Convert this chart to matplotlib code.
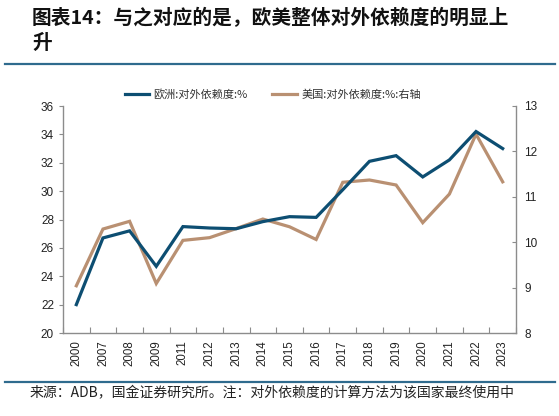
import matplotlib
matplotlib.use("Agg")
import matplotlib.pyplot as plt
import numpy as np

plt.rcParams['font.family'] = ['Noto Sans CJK SC', 'DejaVu Sans']

years = ["2000", "2007", "2008", "2009", "2011", "2012", "2013", "2014", "2015",
         "2016", "2017", "2018", "2019", "2020", "2021", "2022", "2023"]
europe = [22.0, 26.7, 27.2, 24.7, 27.5, 27.4, 27.35, 27.85, 28.2,
          28.15, 30.1, 32.1, 32.5, 31.0, 32.2, 34.2, 33.0]
usa = [9.04, 10.29, 10.46, 9.09, 10.04, 10.10, 10.30, 10.51, 10.34,
       10.06, 11.32, 11.37, 11.26, 10.43, 11.06, 12.38, 11.33]

label_eu = "欧洲:对外依赖度:%"
label_us = "美国:对外依赖度:%:右轴"
title_text = "图表14：与之对应的是，欧美整体对外依赖度的明显上\n升"
source_text = "来源：ADB，国金证券研究所。注：对外依赖度的计算方法为该国家最终使用中"

c_eu = "#0D4E72"
c_us = "#B99072"
c_sep = "#2F6B8E"
c_spine = "#8C8C8C"

fig = plt.figure(figsize=(5.59, 4.16), dpi=100)
ax = fig.add_axes([63/559, 1-333/416, (516-63)/559, (333-106)/416])
ax2 = ax.twinx()

x = np.arange(len(years))
l1, = ax.plot(x, europe, color=c_eu, lw=2.3, solid_joinstyle='miter')
l2, = ax2.plot(x, usa, color=c_us, lw=2.3, solid_joinstyle='miter')
ax.set_zorder(ax2.get_zorder() + 1)
ax.patch.set_visible(False)

ax.set_xlim(-0.5, len(years) - 0.5)
ax.set_ylim(20, 36)
ax.set_yticks(np.arange(20, 37, 2))
ax2.set_ylim(8, 13)
ax2.set_yticks(np.arange(8, 14, 1))

ax.set_xticks(np.arange(-0.5, len(years), 1.0))
ax.set_xticklabels([])
ax.tick_params(axis='x', which='major', direction='in', length=4, color=c_spine)
ax.set_xticks(x, minor=True)
ax.set_xticklabels(years, minor=True, rotation=90, fontsize=8.3, color="#222222",
                   family=['Liberation Sans', 'DejaVu Sans'])
ax.tick_params(axis='x', which='minor', length=0, pad=5)

ax.tick_params(axis='y', direction='out', length=3, color=c_spine, labelsize=8.5,
               labelcolor="#222222")
ax2.tick_params(axis='y', direction='in', length=3, color=c_spine, labelsize=8.5,
                labelcolor="#222222", pad=6)
for lab in ax.get_yticklabels() + ax2.get_yticklabels():
    lab.set_family(['Liberation Sans', 'DejaVu Sans'])

for a in (ax, ax2):
    a.spines['top'].set_visible(False)
    for s in ('left', 'right', 'bottom'):
        a.spines[s].set_color(c_spine)
        a.spines[s].set_linewidth(1.0)
ax.spines['right'].set_visible(False)
ax2.spines['left'].set_visible(False)
ax2.spines['bottom'].set_visible(False)

leg = fig.legend([l1, l2], [label_eu, label_us], loc='center', ncol=2,
                 bbox_to_anchor=(0.488, 1-94/416), frameon=False, fontsize=8,
                 handlelength=2.2, columnspacing=2.2, handletextpad=0.4)
for t in leg.get_texts():
    t.set_color("#333333")

fig.text(32/559, 1-8/416, title_text, ha='left', va='top', fontsize=14.2,
         fontweight='bold', style='italic', color="#111111", linespacing=1.4)

fig.add_artist(plt.Line2D([5/559, 555/559], [1-64/416, 1-64/416], color=c_sep, lw=1.6))
fig.add_artist(plt.Line2D([5/559, 555/559], [1-382/416, 1-382/416], color=c_sep, lw=1.6))

fig.text(30/559, 1-393/416, source_text, ha='left', va='center', fontsize=10,
         color="#222222")

fig.savefig("out.png", dpi=100)
